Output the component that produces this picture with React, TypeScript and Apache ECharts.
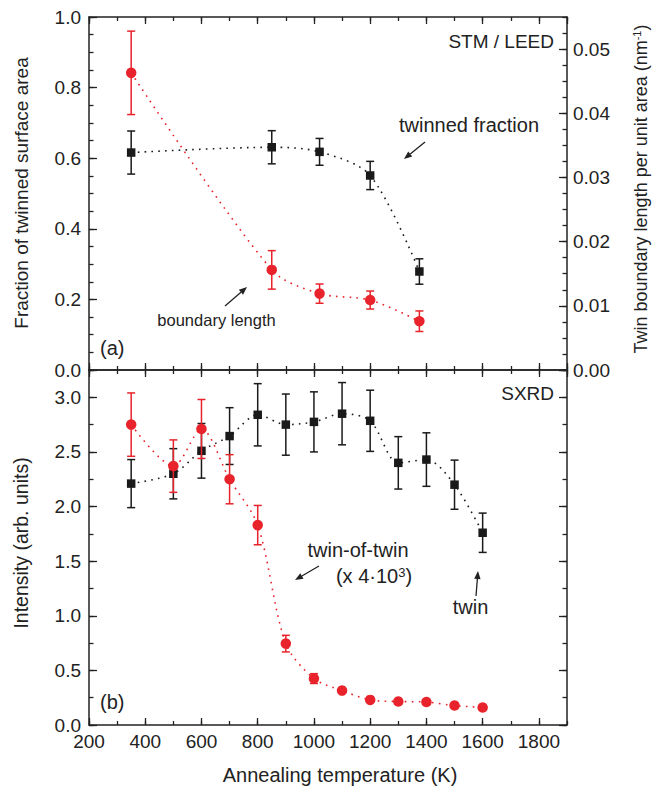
import React, { useEffect, useRef } from "react";
import * as echarts from "echarts";

// ---- data ----
const tempsTop = [350, 850, 1020, 1200, 1375];
const twinnedFraction = [0.616, 0.631, 0.618, 0.551, 0.279];
const twinnedFractionErr = [0.061, 0.047, 0.038, 0.04, 0.036];
const boundaryLength = [0.0463, 0.0156, 0.0119, 0.0109, 0.0076];
const boundaryLengthErr = [0.0065, 0.003, 0.0015, 0.0014, 0.0016];

const tempsBottom = [350, 500, 600, 700, 800, 900, 1000, 1100, 1200, 1300, 1400, 1500, 1600];
const twinIntensity = [2.21, 2.3, 2.51, 2.645, 2.84, 2.75, 2.775, 2.85, 2.785, 2.4, 2.43, 2.2, 1.76];
const twinIntensityErr = [0.22, 0.23, 0.25, 0.26, 0.285, 0.28, 0.275, 0.285, 0.28, 0.24, 0.245, 0.225, 0.18];
const twinOfTwinIntensity = [2.75, 2.37, 2.71, 2.25, 1.83, 0.745, 0.425, 0.315, 0.23, 0.215, 0.21, 0.178, 0.16];
const twinOfTwinErr = [0.29, 0.24, 0.27, 0.225, 0.18, 0.076, 0.045, 0.02, 0.015, 0.015, 0.015, 0.015, 0.015];

const xRange = { min: 200, max: 1900, major: 200, minor: 100 };
const yTopLeft = { min: 0, max: 1.0, major: 0.2, minor: 0.05 };
const yTopRight = { min: 0, max: 0.055, major: 0.01, minor: 0.0025 };
const yBottom = { min: 0, max: 3.25, major: 0.5, minor: 0.25 };

const RED = "#e8232b";
const BLACK = "#1a1a1a";
const INK = "#222";
const FONT = "'Liberation Sans', Arial, Helvetica, sans-serif";

const errorBarItem = (color: string) => (params: any, api: any) => {
  const x = api.value(0);
  const lo = api.value(1);
  const hi = api.value(2);
  const pLo = api.coord([x, lo]);
  const pHi = api.coord([x, hi]);
  const hw = 4;
  const style = { stroke: color, lineWidth: 1.5, fill: null };
  return {
    type: "group",
    children: [
      { type: "line", shape: { x1: pLo[0], y1: pLo[1], x2: pHi[0], y2: pHi[1] }, style },
      { type: "line", shape: { x1: pLo[0] - hw, y1: pLo[1], x2: pLo[0] + hw, y2: pLo[1] }, style },
      { type: "line", shape: { x1: pHi[0] - hw, y1: pHi[1], x2: pHi[0] + hw, y2: pHi[1] }, style },
    ],
  };
};

const txt = (
  text: string,
  x: number,
  y: number,
  size: number,
  align: string = "center",
  rotation = 0,
  rich?: any
) => ({
  type: "text",
  x,
  y,
  rotation,
  z: 100,
  style: {
    text,
    fill: INK,
    fontSize: size,
    fontFamily: FONT,
    align,
    verticalAlign: "middle",
    rich,
  },
});

const arrow = (x1: number, y1: number, x2: number, y2: number) => {
  const dx = x2 - x1;
  const dy = y2 - y1;
  const len = Math.sqrt(dx * dx + dy * dy);
  const ux = dx / len;
  const uy = dy / len;
  const hl = 8;
  const hw = 3.2;
  const bx = x2 - ux * hl;
  const by = y2 - uy * hl;
  return [
    {
      type: "line",
      z: 100,
      shape: { x1, y1, x2: bx, y2: by },
      style: { stroke: INK, lineWidth: 1.3 },
    },
    {
      type: "polygon",
      z: 100,
      shape: {
        points: [
          [x2, y2],
          [bx - uy * hw, by + ux * hw],
          [bx + uy * hw, by - ux * hw],
        ],
      },
      style: { fill: INK },
    },
  ];
};

export default function App() {
  const ref = useRef<HTMLDivElement>(null);

  useEffect(() => {
    if (!ref.current) return;
    const chart = echarts.init(ref.current, undefined, { renderer: "svg" });

    const labelStyle = { color: INK, fontSize: 19, fontFamily: FONT };
    const lineStyle = { color: INK, width: 1.5 };

    const xAxisDef = (
      gridIndex: number,
      position: string,
      major: boolean,
      showLabel: boolean
    ) => ({
      type: "value",
      gridIndex,
      position,
      min: xRange.min,
      max: xRange.max,
      interval: major ? xRange.major : xRange.minor,
      axisLine: { show: major, onZero: false, lineStyle },
      axisTick: { show: true, inside: true, length: major ? 7 : 4, lineStyle: { color: INK, width: 1.3 } },
      axisLabel: {
        show: showLabel,
        ...labelStyle,
        margin: 7,
        showMaxLabel: false,
        formatter: (v: number) => String(Math.round(v)),
      },
      splitLine: { show: false },
    });

    const yAxisDef = (
      gridIndex: number,
      position: string,
      r: { min: number; max: number; major: number; minor: number },
      major: boolean,
      showLabel: boolean,
      decimals: number,
      margin: number
    ) => ({
      type: "value",
      gridIndex,
      position,
      min: r.min,
      max: r.max,
      interval: major ? r.major : r.minor,
      axisLine: { show: major, onZero: false, lineStyle },
      axisTick: { show: true, inside: true, length: major ? 8 : 4.5, lineStyle: { color: INK, width: 1.3 } },
      axisLabel: {
        show: showLabel,
        ...labelStyle,
        margin,
        showMaxLabel: r.max === 1.0,
        formatter: (v: number) => v.toFixed(decimals),
      },
      splitLine: { show: false },
    });

    const xAxes = [
      xAxisDef(0, "bottom", true, false),
      xAxisDef(0, "top", true, false),
      xAxisDef(1, "bottom", true, true),
      xAxisDef(1, "top", true, false),
      xAxisDef(0, "bottom", false, false),
      xAxisDef(0, "top", false, false),
      xAxisDef(1, "bottom", false, false),
      xAxisDef(1, "top", false, false),
    ];

    const yAxes = [
      yAxisDef(0, "left", yTopLeft, true, true, 1, 8),
      yAxisDef(0, "right", yTopRight, true, true, 2, 6),
      yAxisDef(1, "left", yBottom, true, true, 1, 8),
      yAxisDef(1, "right", yBottom, true, false, 1, 6),
      yAxisDef(0, "left", yTopLeft, false, false, 1, 8),
      yAxisDef(0, "right", yTopRight, false, false, 2, 6),
      yAxisDef(1, "left", yBottom, false, false, 1, 8),
      yAxisDef(1, "right", yBottom, false, false, 1, 6),
    ];

    const dotted = (color: string) => ({
      color,
      width: 1.6,
      type: [1.6, 5.2],
      cap: "butt",
    });

    const errData = (xs: number[], vs: number[], es: number[]) =>
      xs.map((t, i) => [t, vs[i] - es[i], vs[i] + es[i]]);

    const series: any[] = [
      {
        type: "custom",
        name: "twinned fraction err",
        xAxisIndex: 0,
        yAxisIndex: 0,
        renderItem: errorBarItem(BLACK),
        encode: { x: 0, y: [1, 2] },
        data: errData(tempsTop, twinnedFraction, twinnedFractionErr),
        z: 2,
      },
      {
        type: "line",
        name: "twinned fraction",
        xAxisIndex: 0,
        yAxisIndex: 0,
        data: tempsTop.map((t, i) => [t, twinnedFraction[i]]),
        smooth: 0.3,
        symbol: "rect",
        symbolSize: 8.5,
        itemStyle: { color: BLACK },
        lineStyle: dotted(BLACK),
        z: 3,
      },
      {
        type: "custom",
        name: "boundary length err",
        xAxisIndex: 0,
        yAxisIndex: 1,
        renderItem: errorBarItem(RED),
        encode: { x: 0, y: [1, 2] },
        data: errData(tempsTop, boundaryLength, boundaryLengthErr),
        z: 4,
      },
      {
        type: "line",
        name: "boundary length",
        xAxisIndex: 0,
        yAxisIndex: 1,
        data: tempsTop.map((t, i) => [t, boundaryLength[i]]),
        smooth: 0.3,
        symbol: "circle",
        symbolSize: 10.5,
        itemStyle: { color: RED },
        lineStyle: dotted(RED),
        z: 5,
      },
      {
        type: "custom",
        name: "twin err",
        xAxisIndex: 2,
        yAxisIndex: 2,
        renderItem: errorBarItem(BLACK),
        encode: { x: 0, y: [1, 2] },
        data: errData(tempsBottom, twinIntensity, twinIntensityErr),
        z: 2,
      },
      {
        type: "line",
        name: "twin",
        xAxisIndex: 2,
        yAxisIndex: 2,
        data: tempsBottom.map((t, i) => [t, twinIntensity[i]]),
        smooth: 0.3,
        symbol: "rect",
        symbolSize: 8.5,
        itemStyle: { color: BLACK },
        lineStyle: dotted(BLACK),
        z: 3,
      },
      {
        type: "custom",
        name: "twin-of-twin err",
        xAxisIndex: 2,
        yAxisIndex: 2,
        renderItem: errorBarItem(RED),
        encode: { x: 0, y: [1, 2] },
        data: errData(tempsBottom, twinOfTwinIntensity, twinOfTwinErr),
        z: 4,
      },
      {
        type: "line",
        name: "twin-of-twin",
        xAxisIndex: 2,
        yAxisIndex: 2,
        data: tempsBottom.map((t, i) => [t, twinOfTwinIntensity[i]]),
        smooth: 0.3,
        symbol: "circle",
        symbolSize: 10.5,
        itemStyle: { color: RED },
        lineStyle: dotted(RED),
        z: 5,
      },
    ];

    const supRich = {
      sup: { fontSize: 11, fontFamily: FONT, fill: INK, color: INK, verticalAlign: "top", padding: [0, 0, 8, 0] },
    };

    const graphic: any[] = [
      txt("STM / LEED", 554, 41, 19, "right"),
      txt("twinned fraction", 469, 125, 20),
      txt("boundary length", 216.5, 320, 16.5),
      txt("(a)", 100, 348, 20, "left"),
      txt("SXRD", 554, 393, 19, "right"),
      txt("twin-of-twin", 358, 550, 20),
      txt("(x 4·10{sup|3})", 374, 576, 20, "center", 0, {
        sup: { fontSize: 13, fontFamily: FONT, color: INK, verticalAlign: "top", padding: [0, 0, 6, 0] },
      }),
      txt("twin", 470.5, 607, 20),
      txt("(b)", 100, 702, 20, "left"),
      txt("Annealing temperature (K)", 340, 775, 20),
      txt("Fraction of twinned surface area", 21, 193, 19, "center", Math.PI / 2),
      txt("Intensity (arb. units)", 21, 543, 19.5, "center", Math.PI / 2),
      txt("Twin boundary length per unit area (nm{sup|-1})", 641, 189, 18, "center", Math.PI / 2, supRich),
      ...arrow(425, 142, 404, 159),
      ...arrow(225, 306, 247, 287),
      ...arrow(319, 566, 295, 580),
      ...arrow(476, 596, 478, 571),
    ];

    chart.setOption({
      animation: false,
      backgroundColor: "#fff",
      textStyle: { fontFamily: FONT },
      grid: [
        { left: 89, right: 93, top: 17, height: 353 },
        { left: 89, right: 93, top: 370, height: 355 },
      ],
      xAxis: xAxes,
      yAxis: yAxes,
      series,
      graphic,
    });

    return () => {
      chart.dispose();
    };
  }, []);

  return (
    <div
      ref={ref}
      style={{ position: "fixed", left: 0, top: 0, width: 660, height: 787, background: "#fff" }}
    />
  );
}
